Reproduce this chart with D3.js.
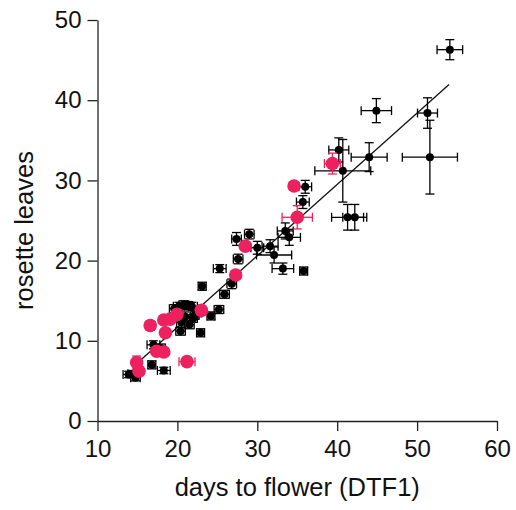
<!DOCTYPE html>
<html>
<head>
<meta charset="utf-8">
<script src="https://cdn.jsdelivr.net/npm/d3@7"></script>
<style>
  body { margin: 0; background: #fff; }
  svg text { font-family: "Liberation Sans", Arial, sans-serif; fill: #111; }
</style>
</head>
<body>
<div id="graphic"></div>
<script>
// black lines: days to flower, rosette leaves, and their error bars
let dtf       = [54.1, 44.9, 51.3, 51.6, 44.0, 40.2, 40.7, 41.3, 42.2, 36.0, 35.7, 35.8, 33.5, 34.0, 31.6, 32.1, 33.2, 29.0, 27.4, 27.6, 30.0, 25.3, 26.8, 25.9, 23.1, 20.8, 25.2, 24.2, 22.9, 20.4, 20.2, 21.8, 21.0, 20.5, 21.5, 19.6, 17.0, 17.9, 16.8, 18.3, 13.9, 14.75, 14.4, 22.5, 22.0, 21.3, 22.2];
let leaves    = [46.3, 38.7, 38.4, 32.9, 32.9, 33.8, 31.2, 25.4, 25.4, 29.2, 27.3, 18.7, 23.7, 22.9, 21.8, 20.7, 19.0, 23.3, 22.7, 20.2, 21.6, 19.0, 17.1, 15.8, 16.8, 14.5, 13.9, 13.1, 11.0, 11.2, 14.3, 14.3, 13.0, 12.3, 12.0, 14.0, 9.5, 9.1, 7.0, 6.3, 5.8, 5.4, 5.9, 13.5, 12.8, 14.4, 13.2];
let dtfErr    = [1.6, 1.9, 1.25, 3.45, 2.25, 1.25, 3.5, 2.0, 1.5, 0.8, 0.8, 0.5, 1.0, 1.4, 1.0, 2.2, 1.35, 0.6, 0.6, 0.6, 0.8, 0.8, 0.6, 0.6, 0.5, 0.6, 0.6, 0.5, 0.5, 0.6, 0.7, 0.7, 0.6, 0.6, 0.6, 0.6, 0.8, 0.6, 0.5, 0.8, 0.7, 0.6, 0.6, 0.6, 0.5, 0.6, 0.5];
let leavesErr = [1.25, 1.5, 1.9, 4.6, 1.8, 1.5, 3.9, 1.6, 1.6, 0.8, 0.8, 0.5, 1.0, 1.0, 0.8, 1.0, 0.7, 0.6, 0.8, 0.6, 0.8, 0.5, 0.6, 0.5, 0.5, 0.5, 0.5, 0.5, 0.5, 0.5, 0.5, 0.5, 0.6, 0.6, 0.5, 0.5, 0.5, 0.5, 0.5, 0.4, 0.4, 0.4, 0.4, 0.5, 0.5, 0.5, 0.5];

// highlighted (pink) lines
let pinkDtf       = [39.4, 34.6, 35.0, 28.5, 27.3, 23.0, 19.95, 19.1, 18.3, 16.6, 18.5, 17.4, 18.3, 21.2, 14.9, 15.2];
let pinkLeaves    = [32.1, 29.3, 25.4, 21.8, 18.2, 13.8, 13.3, 12.7, 12.6, 11.9, 11.0, 8.7, 8.6, 7.4, 7.3, 6.2];
let pinkDtfErr    = [1.0, 0.5, 1.9, 0.5, 0.5, 0.5, 0.5, 0.5, 0.5, 0.6, 0.5, 0.5, 0.5, 1.0, 0.5, 0.5];
let pinkLeavesErr = [1.3, 0.5, 1.45, 0.5, 0.5, 0.5, 0.5, 0.5, 0.5, 0.6, 0.5, 0.5, 0.5, 0.5, 0.8, 0.5];

// fitted line
let fitSlope = 0.89;
let fitIntercept = -6.1;
let fitRange = [14.5, 54];

let xTicks = [10, 20, 30, 40, 50, 60];
let yTicks = [0, 10, 20, 30, 40, 50];

let margin = {top: 20, right: 19, bottom: 89, left: 97.5};
let width = 516 - margin.left - margin.right;
let height = 510 - margin.top - margin.bottom;

let svg = d3.select("#graphic")
  .append("svg")
    .attr("width", 516)
    .attr("height", 510)
  .append("g")
    .attr("transform", "translate(" + margin.left + "," + margin.top + ")");

let x = d3.scaleLinear().domain([10, 60]).range([0, width]);
let y = d3.scaleLinear().domain([0, 50]).range([height, 0]);

// axes
let xAxis = svg.append("g")
  .attr("transform", "translate(0," + height + ")")
  .call(d3.axisBottom(x).tickValues(xTicks).tickSize(10).tickSizeOuter(0).tickPadding(9));
let yAxis = svg.append("g")
  .call(d3.axisLeft(y).tickValues(yTicks).tickSize(10).tickSizeOuter(0).tickPadding(6));
[xAxis, yAxis].forEach(function(a) {
  a.selectAll("path, line").attr("stroke", "#222").attr("stroke-width", 1.3);
  a.selectAll("text").style("font-size", "24px").attr("fill", "#111");
});

svg.append("text")
  .attr("x", width / 2)
  .attr("y", height + 75)
  .attr("text-anchor", "middle")
  .style("font-size", "25.5px")
  .text("days to flower (DTF1)");

svg.append("text")
  .attr("transform", "translate(-65," + (height / 2 + 10) + ")rotate(-90)")
  .attr("text-anchor", "middle")
  .style("font-size", "25.5px")
  .text("rosette leaves");

// fit line
svg.append("line")
  .attr("x1", x(fitRange[0]))
  .attr("y1", y(fitSlope * fitRange[0] + fitIntercept))
  .attr("x2", x(fitRange[1]))
  .attr("y2", y(fitSlope * fitRange[1] + fitIntercept))
  .attr("stroke", "#111")
  .attr("stroke-width", 1.3);

function drawPoints(xs, ys, xe, ye, color, r) {
  let data = xs.map(function(d, i) { return {x: d, y: ys[i], xe: xe[i], ye: ye[i]}; });
  let cap = 4.5;
  let g = svg.append("g").attr("stroke", color).attr("stroke-width", 1.3);
  data.forEach(function(d) {
    let cx = x(d.x), cy = y(d.y);
    let x0 = x(d.x - d.xe), x1 = x(d.x + d.xe);
    let y0 = y(d.y - d.ye), y1 = y(d.y + d.ye);
    g.append("line").attr("x1", x0).attr("x2", x1).attr("y1", cy).attr("y2", cy);
    g.append("line").attr("x1", x0).attr("x2", x0).attr("y1", cy - cap).attr("y2", cy + cap);
    g.append("line").attr("x1", x1).attr("x2", x1).attr("y1", cy - cap).attr("y2", cy + cap);
    g.append("line").attr("x1", cx).attr("x2", cx).attr("y1", y0).attr("y2", y1);
    g.append("line").attr("x1", cx - cap).attr("x2", cx + cap).attr("y1", y0).attr("y2", y0);
    g.append("line").attr("x1", cx - cap).attr("x2", cx + cap).attr("y1", y1).attr("y2", y1);
  });
  svg.append("g").selectAll("circle")
    .data(data)
    .enter()
    .append("circle")
      .attr("cx", d => x(d.x))
      .attr("cy", d => y(d.y))
      .attr("r", r)
      .attr("fill", color);
}

drawPoints(dtf, leaves, dtfErr, leavesErr, "#000", 4);
drawPoints(pinkDtf, pinkLeaves, pinkDtfErr, pinkLeavesErr, "#ee2160", 6.8);
</script>
</body>
</html>
